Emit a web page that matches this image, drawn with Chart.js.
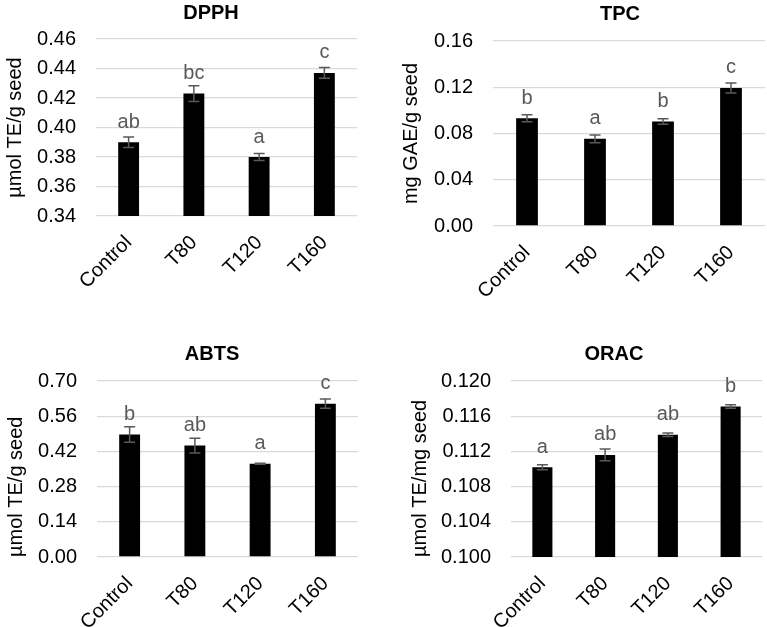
<!DOCTYPE html>
<html lang="en">
<head>
<meta charset="UTF-8">
<title>Antioxidant activity</title>
<script src="https://cdn.jsdelivr.net/npm/chart.js@4.4.0/dist/chart.umd.min.js"></script>
<style>
    body { margin: 0; background: #fff; }
    #wrap { position: relative; width: 767px; height: 627px; overflow: hidden; font-family: 'Liberation Sans', Arial, sans-serif; }
    canvas { position: absolute; }
    .ttl { position: absolute; font-weight: bold; font-size: 20px; color: #000; transform: translate(-50%, -50%); white-space: nowrap; }
</style>
</head>
<body>
<div id="wrap">
    <canvas id="c1" width="383" height="310" style="left:0;top:0"></canvas>
    <canvas id="c2" width="384" height="310" style="left:383px;top:0"></canvas>
    <canvas id="c3" width="383" height="317" style="left:0;top:310px"></canvas>
    <canvas id="c4" width="384" height="317" style="left:383px;top:310px"></canvas>
    <div class="ttl" style="left:211px;top:12px">DPPH</div>
    <div class="ttl" style="left:620px;top:13px">TPC</div>
    <div class="ttl" style="left:212px;top:353px">ABTS</div>
    <div class="ttl" style="left:614px;top:353px">ORAC</div>
</div>

<script>
    // data
    const categories = ['Control', 'T80', 'T120', 'T160'];

    const dpphValues = [0.390, 0.423, 0.380, 0.437];
    const dpphErrors = [0.0035, 0.0053, 0.0024, 0.0036];
    const dpphLetters = ['ab', 'bc', 'a', 'c'];

    const tpcValues = [0.0932, 0.0754, 0.0904, 0.1194];
    const tpcErrors = [0.0030, 0.0033, 0.0024, 0.0043];
    const tpcLetters = ['b', 'a', 'b', 'c'];

    const abtsValues = [0.487, 0.443, 0.371, 0.610];
    const abtsErrors = [0.031, 0.029, 0.002, 0.018];
    const abtsLetters = ['b', 'ab', 'a', 'c'];

    const oracValues = [0.1102, 0.1116, 0.1139, 0.1171];
    const oracErrors = [0.00028, 0.00066, 0.0002, 0.0002];
    const oracLetters = ['a', 'ab', 'ab', 'b'];

    const FONT = "'Liberation Sans', Arial, sans-serif";

    // error bars + significance letters
    const errorBars = {
        id: 'errorBars',
        afterDatasetsDraw(chart) {
            const ctx = chart.ctx;
            const y = chart.scales.y;
            const ds = chart.data.datasets[0];
            const meta = chart.getDatasetMeta(0);
            ctx.save();
            meta.data.forEach((bar, i) => {
                const v = ds.data[i], e = ds.errors[i];
                const top = y.getPixelForValue(v + e);
                const bot = y.getPixelForValue(v - e);
                ctx.strokeStyle = '#595959';
                ctx.lineWidth = 1.5;
                ctx.beginPath();
                ctx.moveTo(bar.x, top); ctx.lineTo(bar.x, bot);
                ctx.moveTo(bar.x - 5.5, top); ctx.lineTo(bar.x + 5.5, top);
                ctx.moveTo(bar.x - 5.5, bot); ctx.lineTo(bar.x + 5.5, bot);
                ctx.stroke();
                ctx.fillStyle = '#595959';
                ctx.font = '20px ' + FONT;
                ctx.textAlign = 'center';
                ctx.textBaseline = 'alphabetic';
                ctx.fillText(ds.letters[i], bar.x, y.getPixelForValue(v) - 14.5);
            });
            ctx.restore();
        }
    };

    function makeChart(id, values, errors, letters, yOpt, box) {
        new Chart(document.getElementById(id), {
            type: 'bar',
            data: {
                labels: categories,
                datasets: [{
                    data: values,
                    errors: errors,
                    letters: letters,
                    backgroundColor: '#000',
                    categoryPercentage: 0.32,
                    barPercentage: 1
                }]
            },
            plugins: [errorBars],
            options: {
                responsive: false,
                animation: false,
                layout: { padding: { left: 0, top: box.top, right: box.right, bottom: 0 } },
                plugins: { legend: { display: false }, tooltip: { enabled: false } },
                scales: {
                    x: {
                        grid: { display: false },
                        border: { display: false },
                        ticks: { color: '#000', font: { family: FONT, size: 20 }, minRotation: 45, maxRotation: 45, padding: 7 },
                        afterFit: s => { s.height = box.xh; }
                    },
                    y: {
                        min: yOpt.min, max: yOpt.max,
                        grid: { color: '#d9d9d9', lineWidth: 1.3, drawTicks: false },
                        border: { display: false },
                        ticks: {
                            stepSize: yOpt.step, padding: 20, color: '#000',
                            font: { family: FONT, size: 20 },
                            callback: v => v.toFixed(yOpt.dec)
                        },
                        title: {
                            display: true, text: yOpt.title, color: '#000', align: yOpt.align,
                            font: { family: FONT, size: 20 }, padding: { top: box.tpad, bottom: 0 }
                        },
                        afterFit: s => { s.width = box.yw; }
                    }
                }
            }
        });
    }

    makeChart('c1', dpphValues, dpphErrors, dpphLetters,
        { min: 0.34, max: 0.46, step: 0.02, dec: 2, title: 'µmol TE/g seed', align: 'center' },
        { top: 39, right: 26, xh: 94, yw: 96, tpad: 3 });
    makeChart('c2', tpcValues, tpcErrors, tpcLetters,
        { min: 0, max: 0.16, step: 0.04, dec: 2, title: 'mg GAE/g seed', align: 'center' },
        { top: 41, right: 2, xh: 84, yw: 110, tpad: 16 });
    makeChart('c3', abtsValues, abtsErrors, abtsLetters,
        { min: 0, max: 0.70, step: 0.14, dec: 2, title: 'µmol TE/g seed', align: 'start' },
        { top: 71, right: 25, xh: 70, yw: 97, tpad: 4.5 });
    makeChart('c4', oracValues, oracErrors, oracLetters,
        { min: 0.100, max: 0.120, step: 0.004, dec: 3, title: 'µmol TE/mg seed', align: 'start' },
        { top: 71, right: 5, xh: 70, yw: 128, tpad: 25 });
</script>
</body>
</html>
